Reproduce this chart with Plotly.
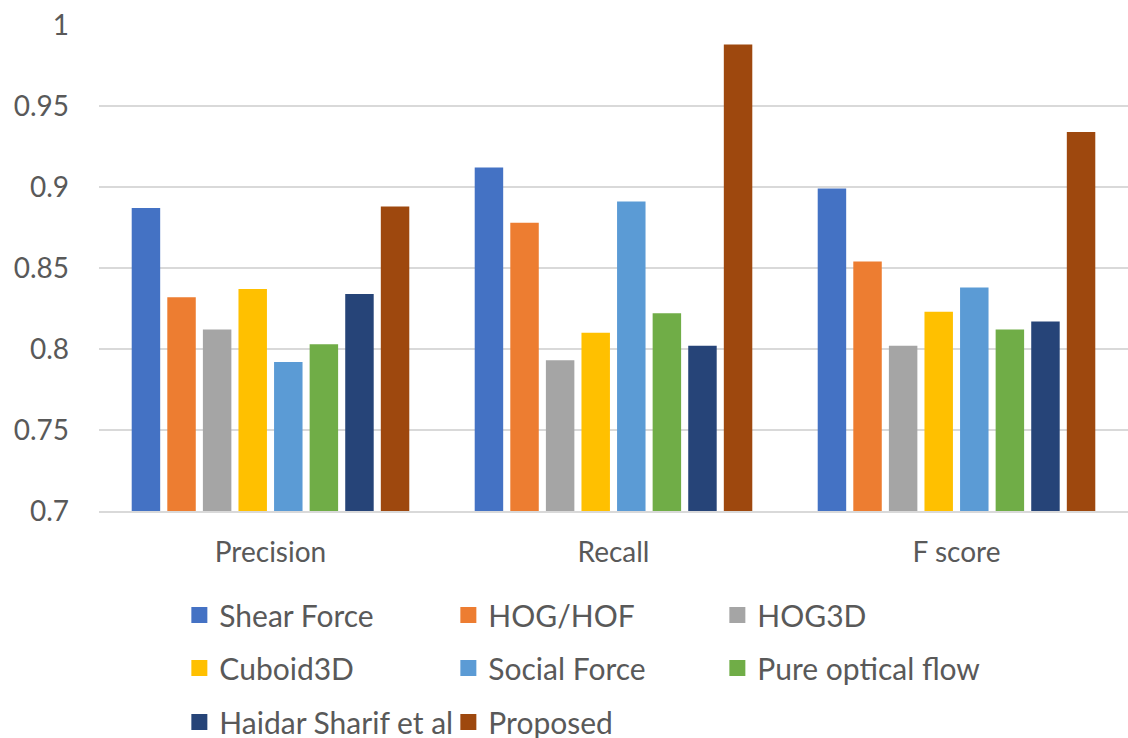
import plotly.graph_objects as go

categories = ["Precision", "Recall", "F score"]
series_names = ["Shear Force", "HOG/HOF", "HOG3D", "Cuboid3D", "Social Force",
                "Pure optical flow", "Haidar Sharif et al", "Proposed"]
shear_force = [0.887, 0.912, 0.899]
hog_hof = [0.832, 0.878, 0.854]
hog3d = [0.812, 0.793, 0.802]
cuboid3d = [0.837, 0.810, 0.823]
social_force = [0.792, 0.891, 0.838]
pure_optical_flow = [0.803, 0.822, 0.812]
haidar_sharif = [0.834, 0.802, 0.817]
proposed = [0.888, 0.988, 0.934]
y_ticks = [0.7, 0.75, 0.8, 0.85, 0.9, 0.95, 1.0]
y_tick_labels = ["0.7", "0.75", "0.8", "0.85", "0.9", "0.95", "1"]

values = [shear_force, hog_hof, hog3d, cuboid3d, social_force,
          pure_optical_flow, haidar_sharif, proposed]
colors = ["#4472C4", "#ED7D31", "#A5A5A5", "#FFC000", "#5B9BD5",
          "#70AD47", "#264478", "#9E480E"]
legend_ids = ["legend", "legend", "legend", "legend2", "legend2", "legend2",
              "legend3", "legend3"]

FONT = "Lato"
TXT = "#595959"

fig = go.Figure()
for name, vals, col, lg in zip(series_names, values, colors, legend_ids):
    fig.add_trace(go.Bar(x=categories, y=vals, name=name, marker_color=col,
                         marker_line_width=0, legendgroup=name, showlegend=False,
                         hoverinfo="skip"))
    # legend entry with a larger square swatch
    fig.add_trace(go.Scatter(x=[None], y=[None], mode="markers", name=name,
                             legendgroup=name, legend=lg,
                             marker=dict(symbol="square", size=18, color=col,
                                         line_width=0)))

leg_common = dict(orientation="h", xref="container", yref="container",
                  xanchor="left", yanchor="middle", x=0.159,
                  entrywidth=224, entrywidthmode="pixels",
                  font=dict(family=FONT, size=30, color=TXT),
                  bgcolor="rgba(0,0,0,0)", traceorder="normal")

fig.update_layout(
    width=1128, height=738,
    margin=dict(l=99, r=0, t=25, b=227, autoexpand=False),
    paper_bgcolor="white", plot_bgcolor="white",
    barmode="group", bargap=0.17, bargroupgap=0.2,
    font=dict(family=FONT, size=28, color=TXT),
    legend=dict(**leg_common, y=1 - 615 / 738),
    legend2=dict(**leg_common, y=1 - 668 / 738),
    legend3=dict(**leg_common, y=1 - 722 / 738),
    xaxis=dict(showgrid=False, showline=True, linecolor="#D9D9D9", linewidth=1.5,
               ticks="", ticklabelstandoff=16,
               tickfont=dict(family=FONT, size=28, color=TXT)),
    yaxis=dict(range=[0.7, 1.0], tickvals=y_ticks, ticktext=y_tick_labels,
               showgrid=True, gridcolor="#D9D9D9", gridwidth=1.5,
               zeroline=False, showline=False, ticks="", ticklabelstandoff=29,
               tickfont=dict(family=FONT, size=28, color=TXT)),
)

fig.write_html("out.html",
               config={"displayModeBar": False},
               post_script="document.body.style.margin='0';"
                           "document.body.style.overflow='hidden';")
